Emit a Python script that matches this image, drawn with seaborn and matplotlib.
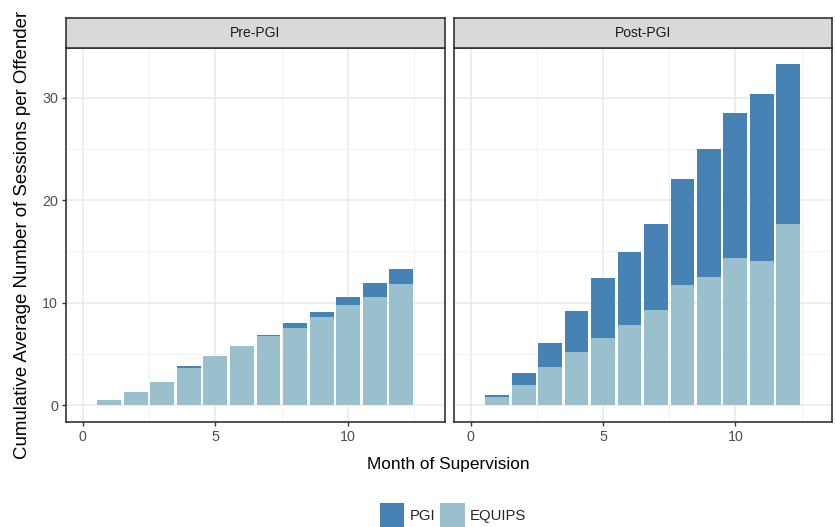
import matplotlib
matplotlib.use("Agg")
import matplotlib.pyplot as plt
import numpy as np
import pandas as pd
import seaborn as sns
from matplotlib.patches import Patch

# Cumulative average sessions per offender, by month of supervision
months = list(range(1, 13))
periods = ["Pre-PGI", "Post-PGI"]
pre_equips = [0.49, 1.26, 2.23, 3.65, 4.79, 5.76, 6.73, 7.57, 8.57, 9.81, 10.51, 11.84]
pre_pgi = [0.0, 0.0, 0.0, 0.17, 0.0, 0.0, 0.13, 0.42, 0.49, 0.70, 1.36, 1.49]
post_equips = [0.75, 1.99, 3.72, 5.19, 6.56, 7.77, 9.27, 11.71, 12.47, 14.33, 14.10, 17.66]
post_pgi = [0.26, 1.14, 2.35, 3.95, 5.88, 7.18, 8.39, 10.36, 12.56, 14.17, 16.26, 15.64]

sources = ["PGI", "EQUIPS"]
colors = {"PGI": "#4682B4", "EQUIPS": "#9AC0CD"}

rows = []
for period, eq, pg in [("Pre-PGI", pre_equips, pre_pgi), ("Post-PGI", post_equips, post_pgi)]:
    for m, e, p in zip(months, eq, pg):
        rows.append({"period": period, "month": m, "EQUIPS": e, "PGI": p, "total": e + p})
df = pd.DataFrame(rows)

sns.set_style("white")
plt.rcParams["font.family"] = ["Liberation Sans", "DejaVu Sans"]

W, H = 836, 527
fig = plt.figure(figsize=(W / 100, H / 100), dpi=100)

def fx(px):
    return px / W

def fy(px):
    return 1 - px / H

panel_top, panel_bot = 48, 422
strip_top = 18
panels = [(66, 445), (454, 832)]

border = "#333333"
for i, (period, (x0, x1)) in enumerate(zip(periods, panels)):
    ax = fig.add_axes([fx(x0), fy(panel_bot), fx(x1 - x0), (panel_bot - panel_top) / H])
    sub = df[df["period"] == period]
    # stacked bars: full height in PGI colour, EQUIPS drawn over the lower part
    sns.barplot(data=sub, x="month", y="total", native_scale=True, color=colors["PGI"],
                saturation=1, width=0.9, errorbar=None, linewidth=0, ax=ax)
    sns.barplot(data=sub, x="month", y="EQUIPS", native_scale=True, color=colors["EQUIPS"],
                saturation=1, width=0.9, errorbar=None, linewidth=0, ax=ax)
    ax.set_xlim(-0.63, 13.65)
    ax.set_ylim(-1.65, 34.85)
    ax.set_xticks([0, 5, 10])
    ax.set_xticks([2.5, 7.5, 12.5], minor=True)
    ax.set_yticks([0, 10, 20, 30])
    ax.set_yticks([5, 15, 25], minor=True)
    ax.set_xticklabels(["0", "5", "10"])
    ax.set_xlabel("")
    ax.set_ylabel("")
    ax.set_facecolor("white")
    ax.set_axisbelow(True)
    ax.grid(True, which="major", color="#EBEBEB", lw=1.2)
    ax.grid(True, which="minor", color="#F3F3F3", lw=0.8)
    for s in ax.spines.values():
        s.set_color(border)
        s.set_linewidth(1.2)
        s.set_visible(True)
    ax.tick_params(which="major", length=3.2, width=1, color=border,
                   labelcolor="#4D4D4D", labelsize=10.3, pad=2.5)
    ax.tick_params(which="minor", length=0)
    if i == 1:
        ax.tick_params(left=False, labelleft=False)
    else:
        ax.tick_params(left=True, labelleft=True)
    ax.tick_params(bottom=True)

    # facet strip
    sax = fig.add_axes([fx(x0), fy(panel_top), fx(x1 - x0), (panel_top - strip_top) / H])
    sax.set_facecolor("#D9D9D9")
    sax.set_xticks([])
    sax.set_yticks([])
    for s in sax.spines.values():
        s.set_color(border)
        s.set_linewidth(1.2)
    sax.text(0.5, 0.5, period, ha="center", va="center", fontsize=10,
             color="#1A1A1A", transform=sax.transAxes)

fig.text(fx(23), fy(235), "Cumulative Average Number of Sessions per Offender",
         rotation=90, ha="center", va="center", fontsize=13.4, color="black")
fig.text(fx(448), fy(465), "Month of Supervision", ha="center", va="center",
         fontsize=12.4, color="black")

handles = [Patch(facecolor=colors[s], edgecolor="none") for s in sources]
fig.legend(handles, sources, ncol=2, loc="upper center",
           bbox_to_anchor=(fx(453), fy(503)), frameon=False, fontsize=10.7,
           handlelength=1.65, handleheight=2.1, handletextpad=0.34,
           columnspacing=0.36, borderpad=0, borderaxespad=0)

fig.savefig("out.png", dpi=100)
